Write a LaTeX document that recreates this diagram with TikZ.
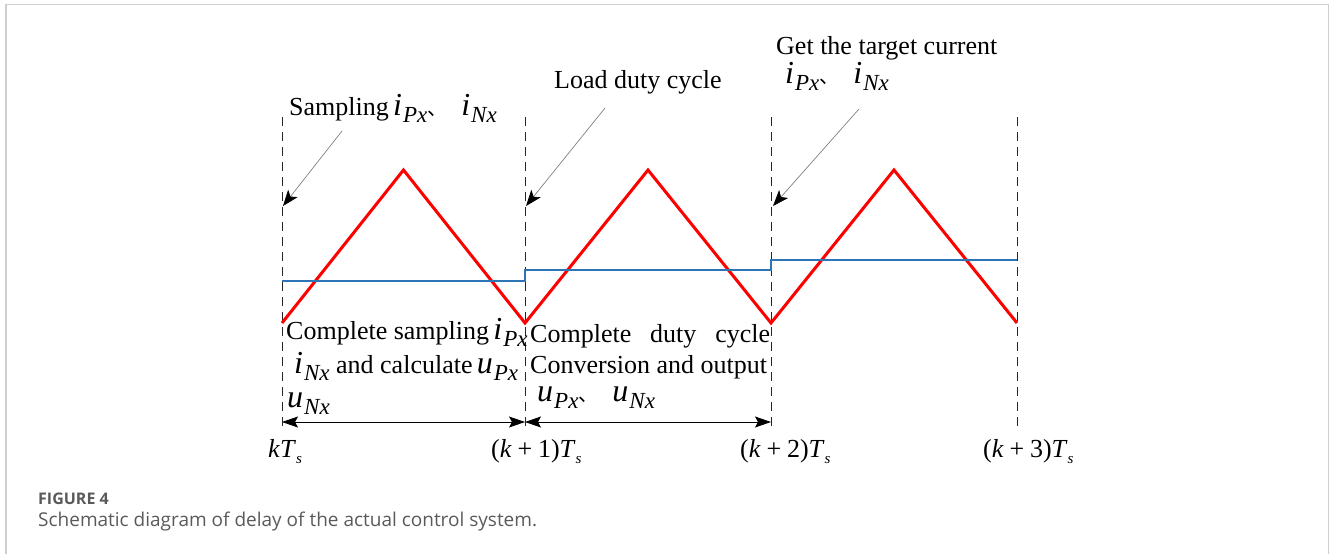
\documentclass[tikz,border=0pt]{standalone}
\usepackage{fontspec}
\setmainfont{Liberation Serif}
\newfontfamily\cjk{Noto Sans CJK SC}
\newfontfamily\capfont{Open Sans}
\usetikzlibrary{arrows.meta}
\definecolor{blueline}{HTML}{2E75B6}
\definecolor{framegray}{HTML}{CFCFCF}
\definecolor{capgray}{HTML}{5A5A5A}
\newcommand\qv[2]{{\fontsize{32}{32}\selectfont\itshape #1}\kern1pt\raisebox{-7pt}[0pt][0pt]{\fontsize{23}{23}\selectfont\itshape #2}}
\newcommand\dun{\smash{\cjk\fontsize{20}{20}\selectfont 、}}
\newcommand\tsub{\textit{T}\raisebox{-6pt}[0pt][0pt]{\fontsize{15}{15}\selectfont\itshape s}}
\begin{document}
\begin{tikzpicture}[x=1pt,y=-1pt,
  lab/.style={anchor=base west, inner sep=0pt, font=\fontsize{26}{28}\selectfont},
  dashv/.style={draw=black!85, line width=0.9pt, dash pattern=on 9pt off 6pt},
  tri/.style={draw=red, line width=3pt, line join=miter},
  lvl/.style={draw=blueline, line width=2pt},
  callout/.style={draw=gray, line width=0.7pt, -{Stealth[length=16pt,width=12pt,inset=4pt,color=black]}},
  period/.style={draw=black, line width=0.8pt, {Stealth[length=16pt,width=11pt,inset=3pt]}-{Stealth[length=16pt,width=11pt,inset=3pt]}}
]
\useasboundingbox (0,0) rectangle (1332,554);
\draw[framegray, line width=1.5pt] (6,554) -- (6,4.5) -- (1328.5,4.5) -- (1328.5,554);

% dashed instants
\foreach \n/\x in {0/282,1/525,2/771,3/1017}{
  \coordinate (t\n) at (\x,117);
  \coordinate (b\n) at (\x,430);
  \draw[dashv] (t\n) -- (b\n);
}

% triangle carrier
\coordinate (v0) at (282,323);
\coordinate (p1) at (403.5,170);
\coordinate (v1) at (525,323);
\coordinate (p2) at (648,170);
\coordinate (v2) at (771,323);
\coordinate (p3) at (894,170);
\coordinate (v3) at (1017,323);
\draw[tri] (v0) -- (p1) -- (v1) -- (p2) -- (v2) -- (p3) -- (v3);

% reference levels
\coordinate (l0) at (282,281);
\coordinate (l1a) at (525,281);
\coordinate (l1b) at (525,270);
\coordinate (l2a) at (771,270);
\coordinate (l2b) at (771,260);
\coordinate (l3) at (1017,260);
\draw[lvl] (l0) -- (l1a) -- (l1b) -- (l2a) -- (l2b) -- (l3);

% top labels
\node[lab] (samp) at (289,115) {Sampling\,\qv{i}{Px}\dun\hspace{14pt}\qv{i}{Nx}};
\node[lab] (load) at (554,88) {Load duty cycle};
\node[lab] (gett) at (776,54) {Get the target current};
\node[lab] (gcur) at (785,83) {\qv{i}{Px}\dun\hspace{14pt}\qv{i}{Nx}};

% callout arrows
\coordinate (s1) at (342,131); \coordinate (e1) at (283,206);
\coordinate (s2) at (605,108); \coordinate (e2) at (526,206);
\coordinate (s3) at (859,109); \coordinate (e3) at (773,206);
\draw[callout] (s1) -- (e1);
\draw[callout] (s2) -- (e2);
\draw[callout] (s3) -- (e3);

% lower text, first interval
\node[lab] (c1) at (286,339) {Complete sampling\,\qv{i}{Px}};
\node[lab] (c2) at (294,373) {\qv{i}{Nx} and calculate\,\qv{u}{Px}};
\node[lab] (c3) at (287,407) {\qv{u}{Nx}};

% lower text, second interval
\node[lab] (d1) at (530,342) {\hbox to 240pt{Complete\hfill duty\hfill cycle}};
\node[lab] (d2) at (530,373) {Conversion and output};
\node[lab] (d3) at (537,401) {\qv{u}{Px}\dun\hspace{14pt}\qv{u}{Nx}};

% periods
\coordinate (q0) at (282,422);
\coordinate (q1) at (525,422);
\coordinate (q2) at (771,422);
\draw[period] (q0) -- (q1);
\draw[period] (q1) -- (q2);

% time labels
\node[lab] (k0) at (268,457) {\textit{k}\tsub};
\node[lab] (k1) at (491,457) {(\textit{k}\:+\:1)\tsub};
\node[lab] (k2) at (740,457) {(\textit{k}\:+\:2)\tsub};
\node[lab] (k3) at (983,457) {(\textit{k}\:+\:3)\tsub};

% caption
\node[anchor=base west, inner sep=0pt, text=capgray, font=\capfont\fontsize{16}{18}\selectfont\bfseries] (fig) at (38,504) {FIGURE 4};
\node[anchor=base west, inner sep=0pt, text=capgray, font=\capfont\fontsize{19}{22}\selectfont] (cap) at (38,526) {Schematic diagram of delay of the actual control system.};
\end{tikzpicture}
\end{document}
